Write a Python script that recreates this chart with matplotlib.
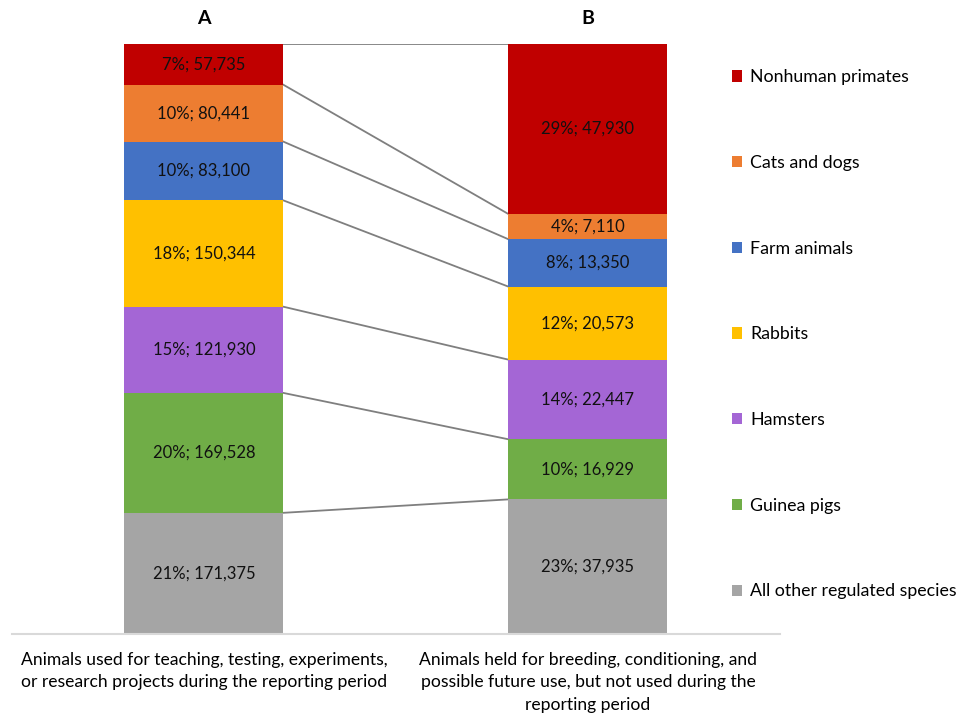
import matplotlib
matplotlib.use("Agg")
import matplotlib.pyplot as plt
import numpy as np

plt.rcParams['font.family'] = ['Lato', 'DejaVu Sans']

# data (counts)
species = ["All other regulated species", "Guinea pigs", "Hamsters", "Rabbits",
           "Farm animals", "Cats and dogs", "Nonhuman primates"]
colors = ["#A5A5A5", "#70AD47", "#A466D5", "#FFC000", "#4472C4", "#ED7D31", "#C00000"]
used_counts = [171375, 169528, 121930, 150344, 83100, 80441, 57735]
held_counts = [37935, 16929, 22447, 20573, 13350, 7110, 47930]
group_titles = ["A", "B"]
group_labels = [
    "Animals used for teaching, testing, experiments,\nor research projects during the reporting period",
    "Animals held for breeding, conditioning, and\npossible future use, but not used during the\nreporting period",
]

counts = np.array([used_counts, held_counts], dtype=float)  # shape (2, 7)
pct = counts / counts.sum(axis=1, keepdims=True) * 100

fig = plt.figure(figsize=(9.57, 7.15), dpi=100)
ax = fig.add_axes([0.0125, 0.1133, 0.8025, 0.8252])

x = np.array([0, 1])
width = 0.414
bottoms = np.zeros(2)
for i, name in enumerate(species):
    ax.bar(x, pct[:, i], width, bottom=bottoms, color=colors[i], label=name, zorder=2)
    for j in range(2):
        yc = bottoms[j] + pct[j, i] / 2
        ax.text(x[j], yc, f"{int(round(pct[j, i]))}%; {int(counts[j, i]):,}",
                ha="center", va="center", fontsize=12, color="#111111", zorder=3)
    bottoms = bottoms + pct[:, i]

# series connecting lines (top of each segment except the lowest level)
cum = np.cumsum(pct, axis=1)
for i in range(len(species)):
    ax.plot([x[0] + width / 2, x[1] - width / 2], [cum[0, i], cum[1, i]],
            color="#7F7F7F", lw=1.3, zorder=1)

ax.set_xlim(-0.5, 1.5)
ax.set_ylim(0, 100)
for s in ["top", "left", "right"]:
    ax.spines[s].set_visible(False)
ax.spines["bottom"].set_color("#D9D9D9")
ax.spines["bottom"].set_linewidth(1.5)
ax.set_yticks([])
ax.set_xticks([])

for j in range(2):
    ax.text(x[j], 104.4, group_titles[j], ha="center", va="center",
            fontsize=14, fontweight="bold")
    ax.text(x[j], -3.0, group_labels[j], ha="center", va="top", fontsize=12.6,
            linespacing=1.52)

handles, labels = ax.get_legend_handles_labels()
leg = fig.legend(handles[::-1], labels[::-1], loc="upper left",
                 bbox_to_anchor=(0.757, 0.913), frameon=False, fontsize=12.8,
                 handlelength=0.6, handleheight=0.6, handletextpad=0.45,
                 labelspacing=3.92, borderaxespad=0)

fig.savefig("out.png", dpi=100)
